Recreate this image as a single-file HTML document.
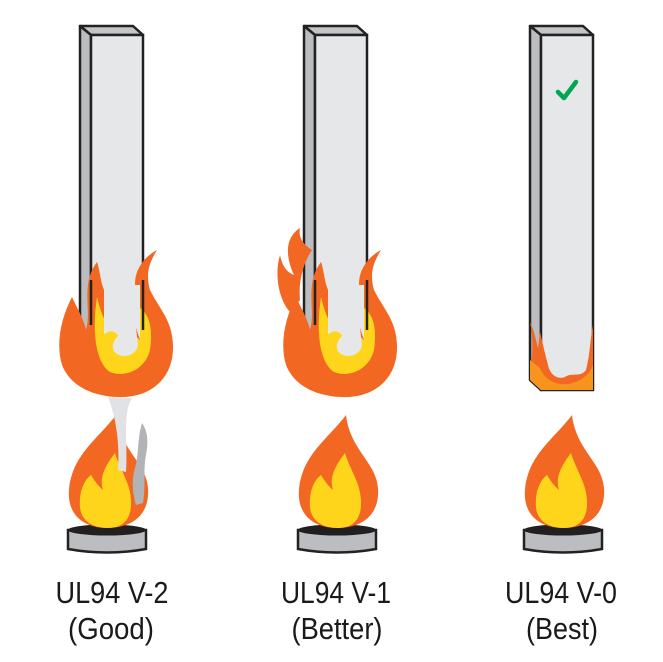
<!DOCTYPE html>
<html><head><meta charset="utf-8"><style>
html,body{margin:0;padding:0;background:#fff;}
svg{display:block;}
text{font-family:"Liberation Sans",Arial,sans-serif;font-size:31px;fill:#1a1a1a;text-anchor:middle;}
</style></head><body>
<svg width="663" height="662" viewBox="0 0 663 662">
<defs>
<g id="bar">
  <polygon points="80,26 133,26 143,35 91,35" fill="#c4c5c7" stroke="#222" stroke-width="2.5" stroke-linejoin="round"/>
  <polygon points="80,26 91,35 91,360 80,350" fill="#bcbdc0" stroke="#222" stroke-width="2.5" stroke-linejoin="round"/>
  <rect x="91" y="35" width="52" height="325" fill="#e6e7e8" stroke="#222" stroke-width="2.5"/>
</g>
<g id="bar0">
  <polygon points="80,26 133,26 143,35 91,35" fill="#c4c5c7" stroke="#222" stroke-width="2.5" stroke-linejoin="round"/>
  <polygon points="80,26 91,35 91,390 80,380" fill="#bcbdc0" stroke="#222" stroke-width="2.5" stroke-linejoin="round"/>
  <rect x="91" y="35" width="52" height="355" fill="#e6e7e8" stroke="#222" stroke-width="2.5"/>
</g>
<g id="burner">
  <path d="M76,530 L76,549 Q115,556 154,549 L154,530 Z" fill="#bcbdc0" stroke="#222" stroke-width="2.5"/>
  <ellipse cx="115" cy="530" rx="39" ry="5.5" fill="#231f20"/>
  <path d="M124,415 C105,440 80,455 77,490 C75,515 92,528 115,528 C140,528 158,515 156,488 C154,462 128,450 124,415 Z" fill="#f26722"/>
  <path d="M123,453 C110,470 108,480 111,490 C106,486 102,480 99,475 C90,482 87,495 88,508 C90,522 102,528 116,528 C132,528 140,518 139,500 C138,482 128,470 123,453 Z" fill="#ffd51c"/>
</g>
<g id="bigflame">
  <path d="M97,262 C80,285 92,310 86,330 C84,320 78,310 72,297 C60,320 56,345 62,365 C72,390 100,398 125,397 C155,395 174,375 173,345 C172,320 160,310 150,290 C145,272 150,262 157,250 C135,262 130,285 140,300 L140,320 C130,300 110,295 104,290 C100,280 100,270 97,262 Z" fill="#f26722"/>
  <path d="M97,297 C92,330 95,362 110,372 C125,378 145,370 150,350 C153,330 150,315 140,308 L140,340 C130,330 118,330 110,330 C104,320 100,310 97,297 Z" fill="#ffd51c"/>
  <path d="M104,285 L104,335 C108,330 116,330 118,336 C108,346 114,356 124,356 C134,356 138,348 138,345 L136,328 L140,340 L140,285 Z" fill="#e6e7e8"/>
  <line x1="143" y1="280" x2="143" y2="330" stroke="#222" stroke-width="2.5"/>
  <line x1="91" y1="280" x2="91" y2="325" stroke="#222" stroke-width="2.5"/>
</g>
</defs>

<!-- V-2 -->
<use href="#bar"/>
<g transform="translate(-8,0)"><use href="#burner"/></g>
<path d="M108,397 C115,415 120,440 118,470 L126,472 C128,440 122,415 132,398 Z" fill="#e1e2e3"/>
<path d="M142,423 C137,440 139,455 135,468 C131,480 133,495 136,505 L143,503 C146,485 143,470 146,455 C149,440 147,430 142,423 Z" fill="#b2b3b6"/>
<use href="#bigflame"/>

<!-- V-1 -->
<g transform="translate(224,0)">
  <use href="#bar"/>
  <use href="#bigflame"/>
  <path d="M76,228 C60,238 62,258 70,275 C62,272 58,265 56,255 C50,275 55,300 66,312 L76,300 C74,280 80,262 88,250 C80,245 74,238 76,228 Z" fill="#f26722"/>
</g>
<g transform="translate(222,0)"><use href="#burner"/></g>

<!-- V-0 -->
<g transform="translate(450,0)">
  <use href="#bar0"/>
  <path d="M80,322 C84,340 82,360 80,380 L91,390 L143,390 L143,325 C140,340 140,355 136,370 C130,378 122,372 115,377 C108,380 100,375 98,365 C94,350 92,340 90,332 L88,348 C86,340 84,330 80,322 Z" fill="#f26722"/>
  <path d="M80,360 L80,380 L91,390 L143,390 L143,365 C138,378 128,382 118,384 C105,385 95,380 90,368 Z" fill="#f7941d"/>
  <path d="M97,360 C100,372 108,377 116,374 C124,372 130,375 136,368 L138,330 C135,345 133,355 130,362 L100,362 Z" fill="#e6e7e8"/>
  <path d="M108,92 L114,98 L126,82" fill="none" stroke="#00a651" stroke-width="4.5" stroke-linecap="round" stroke-linejoin="round"/>
</g>
<g transform="translate(448,0)"><use href="#burner"/></g>

<text x="112" y="603" textLength="113" lengthAdjust="spacingAndGlyphs">UL94 V-2</text>
<text x="111" y="639" textLength="86" lengthAdjust="spacingAndGlyphs">(Good)</text>
<text x="336" y="603" textLength="110" lengthAdjust="spacingAndGlyphs">UL94 V-1</text>
<text x="337" y="639" textLength="91" lengthAdjust="spacingAndGlyphs">(Better)</text>
<text x="561" y="603" textLength="112" lengthAdjust="spacingAndGlyphs">UL94 V-0</text>
<text x="562" y="639" textLength="72" lengthAdjust="spacingAndGlyphs">(Best)</text>
</svg>
</body></html>
